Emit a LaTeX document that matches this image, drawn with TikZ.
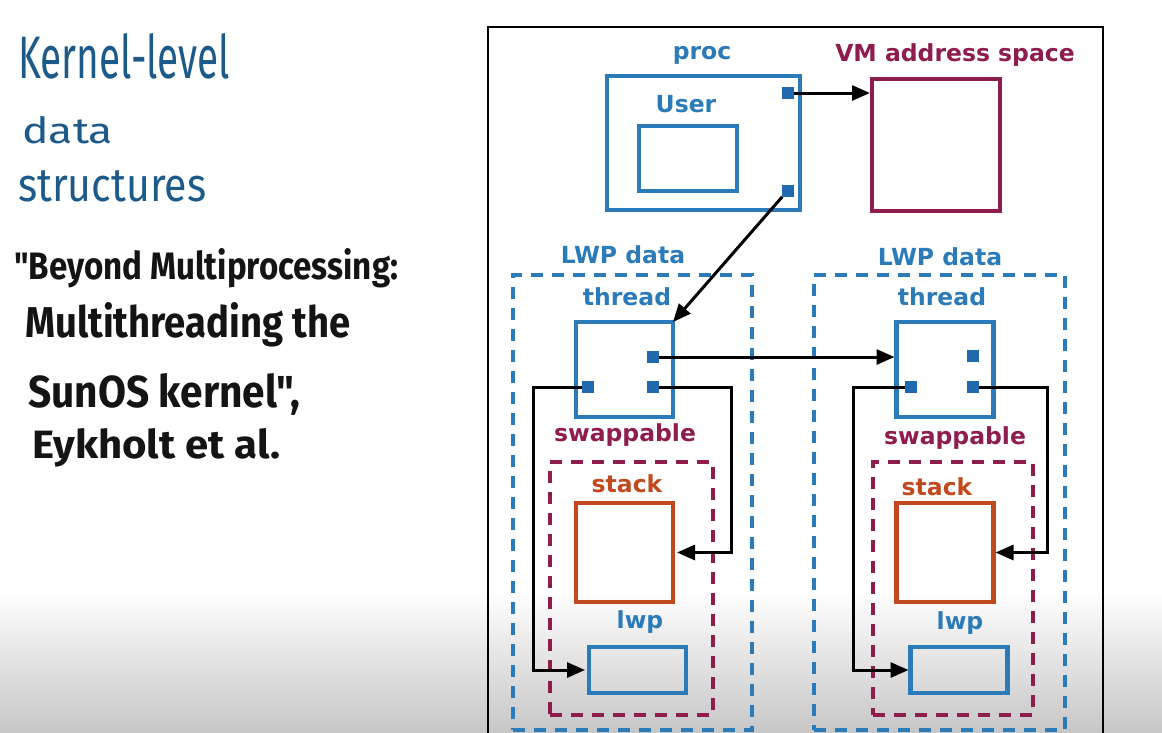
\documentclass[tikz,border=0pt]{standalone}
\usepackage{fontspec}
\setmainfont{DejaVu Sans}
\newfontfamily\handfont{Fira Sans}
\usetikzlibrary{arrows.meta}
\definecolor{dblue}{HTML}{2B7BB9}
\definecolor{sqblue}{HTML}{1F6AAE}
\definecolor{maroon}{HTML}{8E1D4E}
\definecolor{rust}{HTML}{C2481D}
\definecolor{inkblue}{HTML}{1C5A8A}
\definecolor{ink}{HTML}{141414}
\newcommand{\hw}[3]{\resizebox{#1pt}{#2pt}{\handfont\bfseries\fontsize{40}{40}\selectfont #3}}
\newcommand{\hwl}[3]{\resizebox{#1pt}{#2pt}{\handfont\fontsize{40}{40}\selectfont #3}}
\begin{document}
\begin{tikzpicture}[x=1pt,y=-1pt,
  box/.style={draw=#1,line width=4.2pt,minimum width=\bw,minimum height=\bh,inner sep=0pt,outer sep=0pt},
  dbox/.style={draw=#1,line width=4pt,dash pattern=on 12pt off 9pt,inner sep=0pt,outer sep=0pt},
  sq/.style={fill=sqblue,minimum size=11.5pt,inner sep=0pt,outer sep=0pt},
  lbl/.style={text=#1,font=\bfseries\fontsize{23.5}{25}\selectfont,inner sep=0pt},
  conn/.style={draw=black,line width=3pt,-{Triangle[length=18pt,width=15pt]}},
  hand/.style={anchor=base west,inner sep=0pt,text=#1}]
\useasboundingbox (0,0) rectangle (1162,732);
\clip (0,0) rectangle (1162,732);
% screen shading at the bottom
\shade[top color=white,bottom color=black!22] (0,590) rectangle (1162,732);
% left handwritten notes
\node[hand=inkblue] (h1) at (18,78) {\hwl{212}{45}{Kernel-level}};
\node[hand=inkblue] (h2) at (22,143) {\hwl{91}{27}{data}};
\node[hand=inkblue] (h3) at (18,201) {\hwl{188}{31}{structures}};
\node[hand=ink] (h4) at (14,279) {\hw{384}{31}{"Beyond Multiprocessing:}};
\node[hand=ink] (h5) at (25,337) {\hw{325}{35}{Multithreading the}};
\node[hand=ink] (h6) at (28,407) {\hw{272}{34}{SunOS kernel",}};
\node[hand=ink] (h7) at (32,458) {\hw{248}{30}{Eykholt et al.}};
% outer frame
\draw[line width=2.8pt,black] (488,740) -- (488,27) -- (1103,27) -- (1103,740);
% proc
\def\bw{193pt}\def\bh{134pt}
\node[box=dblue] (proc) at (703.5,143) {};
\def\bw{98pt}\def\bh{65pt}
\node[box=dblue] (user) at (688,158.5) {};
\def\bw{128pt}\def\bh{132pt}
\node[box=maroon] (vm) at (936,145) {};
\node[lbl=dblue] (proclbl) at (702,55) {proc};
\node[lbl=dblue] (userlbl) at (686,104) {User};
\node[lbl=maroon] (vmlbl) at (955,55) {VM address space};
\node[sq] (p1) at (788,93) {};
\node[sq] (p2) at (788,191) {};
% LWP data groups
\node[dbox=dblue,minimum width=239pt,minimum height=455pt] (lwpd1) at (632.5,502.5) {};
\node[dbox=dblue,minimum width=251pt,minimum height=455pt] (lwpd2) at (939.5,502.5) {};
\node[lbl=dblue] (lwpdl1) at (623,255) {LWP data};
\node[lbl=dblue] (lwpdl2) at (940,257) {LWP data};
% swappable groups
\node[dbox=maroon,minimum width=163pt,minimum height=253pt] (sw1) at (631.5,588.5) {};
\node[dbox=maroon,minimum width=160pt,minimum height=253pt] (sw2) at (953,588.5) {};
\node[lbl=maroon] (swl1) at (625,435) {swappable};
\node[lbl=maroon] (swl2) at (955,438) {swappable};
% threads
\def\bw{97pt}\def\bh{95pt}
\node[box=dblue] (th1) at (624.5,369.5) {};
\node[box=dblue] (th2) at (945,369.5) {};
\node[lbl=dblue] (thl1) at (627,297) {thread};
\node[lbl=dblue] (thl2) at (942,297) {thread};
\node[sq] (t1a) at (653,357) {};
\node[sq] (t1b) at (588,387) {};
\node[sq] (t1c) at (653,387) {};
\node[sq] (t2a) at (973,356) {};
\node[sq] (t2b) at (911,387) {};
\node[sq] (t2c) at (973,387) {};
% stacks
\def\bw{97pt}\def\bh{99pt}
\node[box=rust] (st1) at (624.5,552.5) {};
\node[box=rust] (st2) at (945,552.5) {};
\node[lbl=rust] (stl1) at (627,484) {stack};
\node[lbl=rust] (stl2) at (937,487) {stack};
% lwp
\def\bw{97pt}\def\bh{46pt}
\node[box=dblue] (lw1) at (637.5,670) {};
\node[box=dblue] (lw2) at (959,670) {};
\node[lbl=dblue] (lwl1) at (640,622) {lwp};
\node[lbl=dblue] (lwl2) at (960,623) {lwp};
% connectors
\coordinate (a1) at (533,387);
\coordinate (a2) at (731,387);
\coordinate (b1) at (853,387);
\coordinate (b2) at (1047,387);
\draw[conn,shorten >=2pt] (p1.east) -- (vm.west |- p1);
\draw[conn] (p2.south west) -- (th1.north east);
\draw[conn,shorten >=2pt] (t1a.east) -- (th2.west |- t1a);
\draw[conn,shorten >=4pt] (t1b.west) -- (a1) |- (lw1.west);
\draw[conn,shorten >=4pt] (t1c.east) -- (a2) |- (st1.east);
\draw[conn,shorten >=2pt] (t2b.west) -- (b1) |- (lw2.west);
\draw[conn,shorten >=2pt] (t2c.east) -- (b2) |- (st2.east);
\end{tikzpicture}
\end{document}
